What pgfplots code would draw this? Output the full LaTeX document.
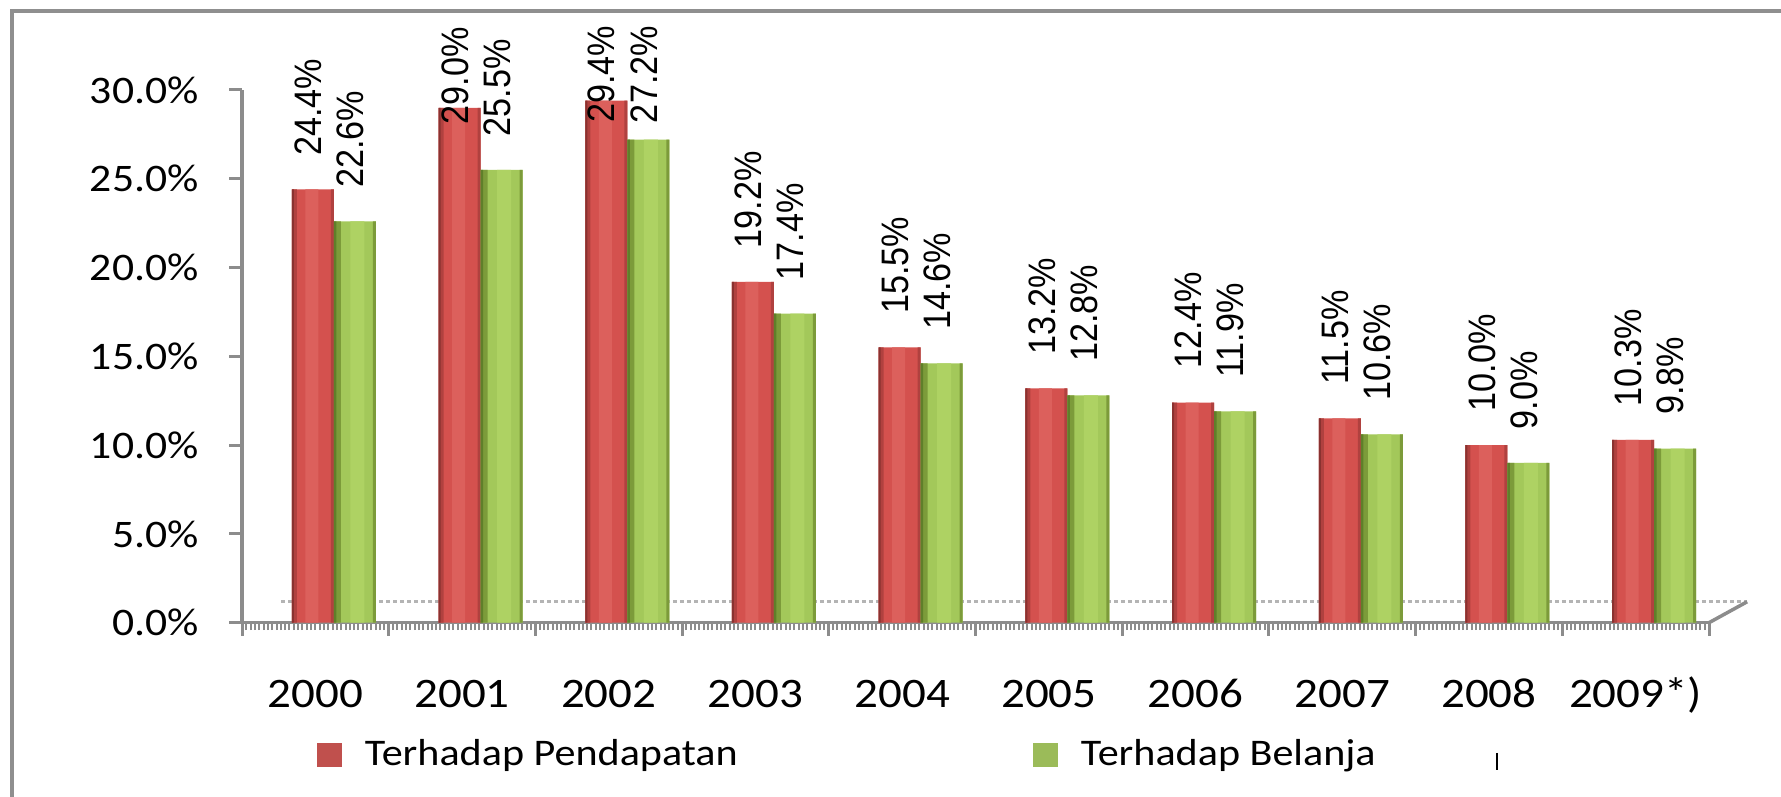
\documentclass[border=0pt]{standalone}
\usepackage{pgfplots}
\pgfplotsset{compat=1.18}
\usepackage{pgfplotstable}
\usepackage{fontspec}
\setmainfont{Carlito}[FakeStretch=1.12]
\newfontfamily\labfont{Liberation Sans}

\definecolor{axgray}{HTML}{8C8C8C}
\definecolor{framegray}{HTML}{8F8F8F}
\definecolor{floorgray}{HTML}{B4B4B4}
\definecolor{rD}{HTML}{8A3230}
\definecolor{rE}{HTML}{B0413F}
\definecolor{rF}{HTML}{D4514E}
\definecolor{rL}{HTML}{DC605C}
\definecolor{gD}{HTML}{5F7F2A}
\definecolor{gE}{HTML}{7C9B3A}
\definecolor{gF}{HTML}{A3C85A}
\definecolor{gL}{HTML}{AED263}
\definecolor{legR}{HTML}{C0504D}
\definecolor{legG}{HTML}{9BBB59}

\pgfplotstableread{
x    pen  penl  bel  bell
0.5  24.4  0.33 22.6 0.33
1.5  29.0 -0.17 25.5 0.33
2.5  29.4 -0.23 27.2 0.16
3.5  19.2  0.33 17.4 0.33
4.5  15.5  0.33 14.6 0.33
5.5  13.2  0.33 12.8 0.33
6.5  12.4  0.33 11.9 0.33
7.5  11.5  0.33 10.6 0.33
8.5  10.0  0.33  9.0 0.33
9.5  10.3  0.33  9.8 0.33
}\datatable

\pgfplotsset{
  stripe/.style n args={3}{ybar, bar width=#1, bar shift=#2, draw=none, fill=#3, forget plot},
  lab/.style={ybar, bar width=0.42cm, draw=none, fill=none, forget plot,
    nodes near coords={\scalebox{1}[1.12]{\pgfmathprintnumber[fixed,fixed zerofill,precision=1]{\pgfplotspointmeta}\%}},
    point meta=y,
    every node near coord/.append style={xshift=#1, yshift={\mysh*1cm}, rotate=90, anchor=west,
      inner sep=0pt, text=black, font=\labfont\fontsize{9.73pt}{11pt}\selectfont}},
}

\begin{document}
\begin{tikzpicture}
\path[use as bounding box] (0,0) rectangle (17.81,7.97);
\draw[framegray, line width=0.04cm] (0.115,0) -- (0.115,7.855) -- (17.81,7.855);
\begin{axis}[
  at={(2.42cm,1.743cm)}, anchor=south west,
  scale only axis, width=14.67cm, height=5.327cm,
  xmin=0, xmax=10, ymin=0, ymax=30,
  axis lines*=left,
  axis line style={draw=axgray, line width=0.035cm},
  clip=false,
  xtick={0,1,...,10},
  x tick label as interval,
  xticklabels={2000,2001,2002,2003,2004,2005,2006,2007,2008,2009*)},
  minor x tick num=33,
  ytick={0,5,...,30},
  yticklabels={0.0\%,5.0\%,10.0\%,15.0\%,20.0\%,25.0\%,30.0\%},
  tick align=outside,
  major tick length=0.13cm,
  minor tick length=0.075cm,
  tick style={draw=axgray, line width=0.03cm},
  minor tick style={draw=axgray, line width=0.02cm},
  xticklabel style={font=\fontsize{11.95pt}{14pt}\selectfont, text height=0.78em, text depth=0.2em, yshift=-0.32cm},
  yticklabel style={font=\fontsize{11.1pt}{13pt}\selectfont, xshift=-0.18cm},
  /pgf/number format/assume math mode=true,
  legend columns=2,
  legend style={at={(0.0511,-0.2484)}, anchor=west, draw=none, fill=none,
    inner sep=0pt, outer sep=0pt, nodes={inner sep=0pt},
    font=\fontsize{10.7pt}{13pt}\selectfont,
    /tikz/every odd column/.append style={column sep=0.23cm},
    /tikz/every even column/.append style={column sep=0cm}},
]
\draw[floorgray, line width=0.03cm, dash pattern=on 0.04cm off 0.03cm] (axis cs:0.266,1.18) -- (axis cs:10.26,1.18);
\draw[axgray, line width=0.035cm] (axis cs:10,0) -- (axis cs:10.26,1.18);

% base bars (legend)
\addplot[ybar, bar width=0.42cm, bar shift=-0.025cm, draw=none, fill=rF,
  legend image code/.code={\fill[legR] (0cm,-0.12cm) rectangle (0.25cm,0.12cm);}]
  table[x=x, y=pen] {\datatable};
\addlegendentry{\makebox[6.68cm][l]{Terhadap Pendapatan}}
\addplot[ybar, bar width=0.42cm, bar shift=0.395cm, draw=none, fill=gF,
  legend image code/.code={\fill[legG] (0cm,-0.12cm) rectangle (0.25cm,0.12cm);}]
  table[x=x, y=bel] {\datatable};
\addlegendentry{Terhadap Belanja}

% cylinder shading stripes, red
\addplot[stripe={0.13cm}{-0.035cm}{rL}] table[x=x, y=pen] {\datatable};
\addplot[stripe={0.05cm}{-0.21cm}{rE}] table[x=x, y=pen] {\datatable};
\addplot[stripe={0.02cm}{-0.225cm}{rD}] table[x=x, y=pen] {\datatable};
\addplot[stripe={0.03cm}{0.17cm}{rE}] table[x=x, y=pen] {\datatable};
% cylinder shading stripes, green
\addplot[stripe={0.14cm}{0.42cm}{gL}] table[x=x, y=bel] {\datatable};
\addplot[stripe={0.07cm}{0.22cm}{gE}] table[x=x, y=bel] {\datatable};
\addplot[stripe={0.025cm}{0.1975cm}{gD}] table[x=x, y=bel] {\datatable};
\addplot[stripe={0.03cm}{0.59cm}{gE}] table[x=x, y=bel] {\datatable};

% value labels
\addplot[lab={-0.07cm}, bar shift=-0.025cm, visualization depends on={\thisrow{penl} \as \mysh}]
  table[x=x, y=pen] {\datatable};
\addplot[lab={0.35cm}, bar shift=0.395cm, visualization depends on={\thisrow{bell} \as \mysh}]
  table[x=x, y=bel] {\datatable};
\end{axis}
\draw[black, line width=0.015cm] (14.97,0.44) -- (14.97,0.27);
\end{tikzpicture}
\end{document}
